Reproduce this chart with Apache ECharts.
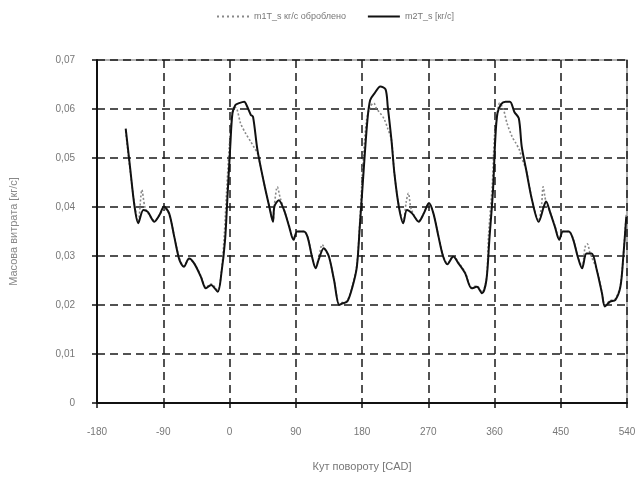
<!DOCTYPE html>
<html>
<head>
<meta charset="utf-8">
<script src="https://cdn.jsdelivr.net/npm/echarts@6/dist/echarts.min.js"></script>
<style>
html,body{margin:0;padding:0;background:#fff;}
#chart{width:643px;height:478px;}
</style>
</head>
<body>
<div id="chart"></div>
<script>
// Angle (CAD) values
var xTicks = [-180, -90, 0, 90, 180, 270, 360, 450, 540];
var yTickLabels = ['0', '0,01', '0,02', '0,03', '0,04', '0,05', '0,06', '0,07'];
var seriesNames = ['m1T_s кг/с оброблено', 'm2T_s [кг/с]'];

// m2T_s [кг/с] (solid)
var m2Angle = [-141,-135,-129,-124,-117,-111,-102,-95,-89,-82,-75,-68,-62,-55,-48,-39,-32,-25,-16,-11,-6,-3,1,4,8,13,20,24,29,32,38,47,54,59,61,67,74,81,87,92,101,106,112,117,121,128,135,142,149,153,160,167,173,177,182,187,191,197,205,212,215,220,224,230,236,241,248,257,264,271,277,284,290,296,304,311,320,329,336,343,349,353,358,361,364,369,375,381,387,393,397,403,411,420,427,430,436,442,448,453,461,467,473,479,485,492,499,506,510,517,524,531,535,539];
var m2Value = [0.0560,0.0480,0.0401,0.0367,0.0394,0.0390,0.0370,0.0384,0.0401,0.0387,0.0339,0.0292,0.0278,0.0295,0.0285,0.0258,0.0234,0.0241,0.0227,0.0265,0.0333,0.0414,0.0523,0.0591,0.0608,0.0612,0.0615,0.0605,0.0588,0.0584,0.0516,0.0448,0.0401,0.0370,0.0401,0.0414,0.0394,0.0360,0.0333,0.0350,0.0350,0.0339,0.0299,0.0275,0.0292,0.0316,0.0299,0.0251,0.0200,0.0203,0.0207,0.0237,0.0278,0.0360,0.0469,0.0571,0.0618,0.0632,0.0646,0.0640,0.0605,0.0537,0.0469,0.0401,0.0367,0.0394,0.0387,0.0370,0.0387,0.0408,0.0387,0.0339,0.0300,0.0283,0.0299,0.0285,0.0265,0.0234,0.0237,0.0224,0.0251,0.0333,0.0435,0.0537,0.0591,0.0610,0.0615,0.0615,0.0594,0.0581,0.0523,0.0476,0.0414,0.0370,0.0401,0.0411,0.0387,0.0360,0.0333,0.0350,0.0350,0.0333,0.0299,0.0275,0.0305,0.0305,0.0271,0.0224,0.0197,0.0207,0.0210,0.0237,0.0299,0.0380];

// m1T_s кг/с оброблено (dotted)
var m1Angle = [-141,-135,-129,-124,-119,-115,-111,-102,-95,-89,-82,-75,-68,-62,-55,-48,-39,-32,-25,-16,-11,-7,-4,0,3,6,10,15,22,29,34,38,47,54,59,61,65,69,74,81,87,92,101,106,112,117,121,126,131,135,142,149,153,160,167,173,177,181,186,191,196,200,205,210,215,220,224,230,236,240,243,247,257,264,271,277,284,290,296,304,311,320,329,336,343,349,352,357,360,364,367,372,377,384,388,394,397,403,411,420,424,426,430,436,442,448,453,461,467,473,479,483,486,490,499,506,510,517,524,531,535,539];
var m1Value = [0.0555,0.0475,0.0405,0.0370,0.0435,0.0400,0.0388,0.0372,0.0384,0.0398,0.0385,0.0340,0.0295,0.0280,0.0293,0.0285,0.0260,0.0236,0.0243,0.0230,0.0268,0.0345,0.0430,0.0530,0.0585,0.0605,0.0600,0.0571,0.0550,0.0533,0.0520,0.0510,0.0448,0.0403,0.0372,0.0405,0.0441,0.0418,0.0395,0.0362,0.0335,0.0350,0.0350,0.0340,0.0300,0.0277,0.0295,0.0323,0.0310,0.0299,0.0252,0.0203,0.0205,0.0209,0.0239,0.0282,0.0370,0.0480,0.0575,0.0605,0.0612,0.0600,0.0591,0.0580,0.0560,0.0537,0.0469,0.0403,0.0369,0.0410,0.0428,0.0395,0.0372,0.0388,0.0406,0.0387,0.0340,0.0302,0.0285,0.0300,0.0287,0.0267,0.0236,0.0239,0.0226,0.0253,0.0345,0.0445,0.0545,0.0595,0.0612,0.0600,0.0571,0.0543,0.0533,0.0516,0.0500,0.0476,0.0415,0.0372,0.0405,0.0441,0.0410,0.0388,0.0362,0.0335,0.0350,0.0350,0.0335,0.0300,0.0278,0.0318,0.0325,0.0305,0.0272,0.0226,0.0200,0.0209,0.0212,0.0240,0.0300,0.0385];

function pairs(xs, ys){ var out=[]; for(var i=0;i<xs.length;i++){ out.push([xs[i], ys[i]]); } return out; }

var chart = echarts.init(document.getElementById('chart'), null, {renderer:'canvas'});
var gridDash = {color:'#1a1a1a', width:1.5, type:[8,5]};
var option = {
  animation:false,
  backgroundColor:'#ffffff',
  textStyle:{fontFamily:'Liberation Sans, Arial, sans-serif'},
  legend:{
    top:7, left:212,
    itemWidth:32, itemHeight:8, itemGap:22,
    textStyle:{color:'#777', fontSize:9},
    data:[
      {name:seriesNames[0], icon:'path://M0,3h2v2h-2zM5,3h2v2h-2zM10,3h2v2h-2zM15,3h2v2h-2zM20,3h2v2h-2zM25,3h2v2h-2zM30,3h2v2h-2z', itemStyle:{color:'#888'}},
      {name:seriesNames[1], icon:'path://M0,3h32v2h-32z', itemStyle:{color:'#111'}}
    ]
  },
  grid:{left:96, right:16, top:60, bottom:75, show:true, borderColor:'#999', borderWidth:1.5},
  xAxis:{
    type:'value', min:-180, max:540, interval:90,
    name:'Кут повороту [CAD]', nameLocation:'middle', nameGap:58,
    nameTextStyle:{color:'#777', fontSize:11},
    axisLine:{show:true, onZero:false, lineStyle:{color:'#111', width:2}},
    axisTick:{show:true, inside:false, length:5, lineStyle:{color:'#111', width:1.5}},
    axisLabel:{color:'#777', fontSize:10, margin:24, formatter:function(v){ return xTicks.indexOf(v)>=0 ? String(v) : ''; }},
    splitLine:{show:true, lineStyle:gridDash}
  },
  yAxis:{
    type:'value', min:0, max:0.07, interval:0.01,
    name:'Масова витрата [кг/с]', nameLocation:'middle', nameGap:78, nameRotate:90,
    nameTextStyle:{color:'#888', fontSize:11},
    axisLine:{show:true, onZero:false, lineStyle:{color:'#111', width:2}},
    axisTick:{show:true, inside:false, length:5, lineStyle:{color:'#111', width:1.5}},
    axisLabel:{color:'#777', fontSize:10, margin:22, formatter:function(v){ var i=Math.round(v*100); return yTickLabels[i]; }},
    splitLine:{show:true, lineStyle:gridDash}
  },
  series:[
    {name:seriesNames[0], type:'line', data:pairs(m1Angle, m1Value), symbol:'none', smooth:0.3,
     lineStyle:{color:'#888', width:1.6, type:[2,2]}, itemStyle:{color:'#888'}, z:2},
    {name:seriesNames[1], type:'line', data:pairs(m2Angle, m2Value), symbol:'none', smooth:0.3,
     lineStyle:{color:'#111', width:2}, itemStyle:{color:'#111'}, z:3}
  ]
};
chart.setOption(option);
</script>
</body>
</html>
